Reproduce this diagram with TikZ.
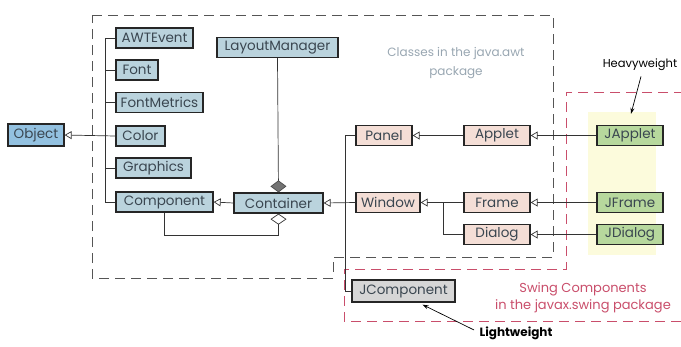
\documentclass[tikz,border=0pt]{standalone}
\usepackage{fontspec}
\setmainfont{Poppins}
\usetikzlibrary{arrows.meta, positioning, calc}
\definecolor{objBlue}{HTML}{93C1E0}
\definecolor{awtBlue}{HTML}{BAD3DD}
\definecolor{peerPink}{HTML}{F4DED6}
\definecolor{swingGreen}{HTML}{B7D89D}
\definecolor{lightGray}{HTML}{D6D6D6}
\definecolor{boxText}{HTML}{3A4650}
\definecolor{pkgGray}{HTML}{555555}
\definecolor{pkgNote}{HTML}{98A6B1}
\definecolor{swingRed}{HTML}{C94E6B}
\definecolor{softYellow}{HTML}{FCFBDC}

\begin{document}
\begin{tikzpicture}[x=1pt, y=-1pt,
  cls/.style={draw=black!85, line width=1.3pt, minimum height=20pt, inner sep=0pt, font=\fontsize{13.5}{14}\selectfont, text=boxText},
  awt/.style={cls, fill=awtBlue},
  peer/.style={cls, fill=peerPink},
  swing/.style={cls, fill=swingGreen},
  extends/.style={draw=black!80, line width=0.7pt, -{Triangle[open, length=7pt, width=8pt, line width=0.7pt]}},
  link/.style={draw=black!80, line width=0.7pt},
  pkgline/.style={line width=1pt, dash pattern=on 10pt off 6pt},
  note/.style={font=\fontsize{12}{19}\selectfont, align=center},
]
  \useasboundingbox (0,0) rectangle (681,346);
  \fill[softYellow] (588,112) rectangle (656,255);

  % Packages
  \draw[pkgline, draw=pkgGray] (92,15) -- (553,15) -- (553,257) -- (333,257) -- (333,278) -- (92,278) -- cycle;
  \draw[pkgline, draw=swingRed] (684,92) -- (566,92) -- (566,269) -- (344,269) -- (344,321) -- (684,321);
  \node[note, text=pkgNote] (awtnote) at (456,63) {Classes in the java.awt\\package};
  \node[note, text=swingRed, font=\fontsize{13}{16.5}\selectfont] (swingnote) at (583,298) {Swing Components\\in the javax.swing package};

  % java.lang
  \node[cls, fill=objBlue, minimum width=56pt, minimum height=22pt] (object) at (36,135) {Object};

  % Column of java.awt classes
  \node[awt, minimum width=77pt] (awtevent) at (154.5,38) {AWTEvent};
  \node[awt, minimum width=42pt] (font) at (137,70) {Font};
  \node[awt, minimum width=87pt] (fontmetrics) at (159.5,102.5) {FontMetrics};
  \node[awt, minimum width=49pt] (color) at (140.5,136) {Color};
  \node[awt, minimum width=75pt] (graphics) at (153.5,168) {Graphics};
  \node[awt, minimum width=97pt] (component) at (164.5,202) {Component};

  \node[awt, minimum width=121pt] (layoutmanager) at (277.5,47.5) {LayoutManager};
  \node[awt, minimum width=89pt] (container) at (278.5,203) {Container};

  % Heavyweight peers
  \node[peer, minimum width=56pt] (panel) at (384,135.5) {Panel};
  \node[peer, minimum width=66pt] (applet) at (497,135.5) {Applet};
  \node[peer, minimum width=64pt] (window) at (388,202.5) {Window};
  \node[peer, minimum width=66pt] (frame) at (497,202.5) {Frame};
  \node[peer, minimum width=66pt] (dialog) at (497,234.5) {Dialog};

  % Swing
  \node[swing, minimum width=66pt] (japplet) at (630,135.5) {JApplet};
  \node[swing, minimum width=66pt] (jframe) at (630,202.5) {JFrame};
  \node[swing, minimum width=66pt] (jdialog) at (630,234.5) {JDialog};
  \node[cls, fill=lightGray, minimum width=103pt, minimum height=22pt] (jcomponent) at (403.5,291) {JComponent};

  \node[font=\fontsize{11.5}{12}\selectfont] (heavy) at (640,65) {Heavyweight};
  \node[font=\fontsize{12}{12}\selectfont\bfseries] (light) at (516,333) {Lightweight};

  % Inheritance
  \coordinate (awtbus) at (105,38);
  \draw[link] (awtevent.west) -- (awtbus) |- (component.west);
  \draw[link] (font.west) -- (font.west -| awtbus);
  \draw[link] (fontmetrics.west) -- (fontmetrics.west -| awtbus);
  \draw[link] (graphics.west) -- (graphics.west -| awtbus);
  \draw[extends] (color.west) -- (object.east);
  \draw[extends] (container.west) -- (component.east);
  \draw[extends] (window.west) -- (container.east);

  \coordinate (ctrbus) at (345,135.5);
  \draw[link] (panel.west) -- (ctrbus) |- (jcomponent.west);
  \draw[extends] (applet.west) -- (panel.east);
  \draw[extends] (japplet.west) -- (applet.east);

  \coordinate (winbus) at (443,202.5);
  \draw[extends] (frame.west) -- (window.east);
  \draw[link] (dialog.west) -| (winbus);
  \draw[extends] (jframe.west) -- (frame.east);
  \draw[extends] (jdialog.west) -- (dialog.east);

  % Associations
  \draw[link, -{Diamond[fill=black!55, color=black!70, length=12pt, width=16pt]}] (layoutmanager.south) -- (container.north);
  \draw[link, {Diamond[open, length=11pt, width=16pt]}-] (container.south) -- ++(0,22) -| (component.south);

  % Notes
  \draw[-{Stealth[length=6pt, width=4pt]}, line width=0.7pt] (heavy.south) ++(1,2) -- ($(japplet.north)+(1,-11)$);
  \draw[-{Stealth[length=6pt, width=4pt]}, line width=0.7pt] (light.west) ++(-2,-3) -- ($(jcomponent.south)+(19,2)$);
\end{tikzpicture}
\end{document}
